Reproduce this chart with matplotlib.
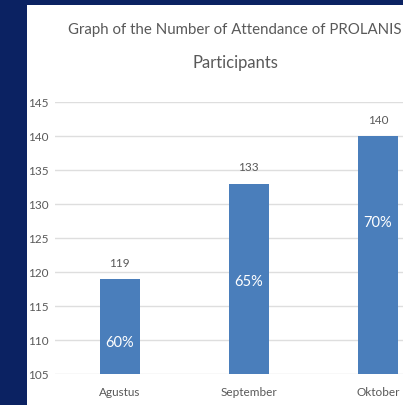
import matplotlib
matplotlib.use("Agg")
import matplotlib.pyplot as plt
from matplotlib.patches import Rectangle

# data
months = ["Agustus", "September", "Oktober"]
attendance = [119, 133, 140]
percent_labels = ["60%", "65%", "70%"]
y_ticks = [105, 110, 115, 120, 125, 130, 135, 140, 145]

NAVY = "#0b2262"
BAR = "#4a7ebb"
GREY = "#595959"

plt.rcParams["font.family"] = ["Lato", "DejaVu Sans"]

fig = plt.figure(figsize=(4.03, 4.06), dpi=100, facecolor=NAVY)
# white chart area on the navy slide
fig.patches.append(Rectangle((27 / 403, 0), 1, 1 - 6 / 406, transform=fig.transFigure,
                             facecolor="white", edgecolor="none", zorder=-1))

# plot area runs past the right edge, the screenshot is cropped there
ax = fig.add_axes([55 / 403, 1 - 375 / 406, 387.5 / 403, (375 - 103) / 406])
ax.set_facecolor("none")
ax.set_zorder(2)

x = list(range(len(months)))
ax.bar(x, attendance, width=0.31, color=BAR, zorder=3)

ax.set_xlim(-0.5, 2.5)
ax.set_ylim(105, 145)
ax.set_yticks(y_ticks)
ax.set_yticklabels([str(v) for v in y_ticks], ha="left")
ax.set_xticks(x)
ax.set_xticklabels(months)
ax.tick_params(axis="y", length=0, pad=19.5, labelsize=8.5, labelcolor=GREY)
ax.tick_params(axis="x", length=0, pad=9, labelsize=8.5, labelcolor=GREY)
ax.grid(axis="y", color="#dedede", linewidth=1, zorder=0)
for s in ax.spines.values():
    s.set_visible(False)

# value labels above the bars
for xi, v in zip(x, attendance):
    ax.annotate(str(v), (xi, v), xytext=(0, 8), textcoords="offset points",
                ha="center", va="bottom", fontsize=8.5, color=GREY)

# percentage text boxes placed inside the bars
pct_y = [109.7, 118.7, 127.4]
for xi, t, py in zip(x, percent_labels, pct_y):
    ax.text(xi, py, t, ha="center", va="center", fontsize=10.5, color="white", zorder=4)

fig.text(235 / 403, 1 - 30 / 406, "Graph of the Number of Attendance of PROLANIS",
         ha="center", va="center", fontsize=10.8, color=GREY)
fig.text(235 / 403, 1 - 63 / 406, "Participants",
         ha="center", va="center", fontsize=12, color=GREY)

fig.savefig("out.png", dpi=100, facecolor=NAVY)
